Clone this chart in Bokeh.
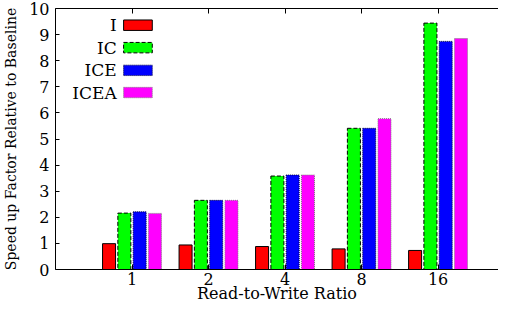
from bokeh.plotting import figure
from bokeh.models import FixedTicker, LinearAxis, Label, BoxAnnotation, ColumnDataSource, Range1d
from bokeh.transform import dodge
from bokeh.embed import file_html
from bokeh.resources import INLINE

# ---- data ----
ratios = ["1", "2", "4", "8", "16"]
series_names = ["I", "IC", "ICE", "ICEA"]
speedup_I = [0.99, 0.94, 0.88, 0.79, 0.73]
speedup_IC = [2.16, 2.65, 3.58, 5.41, 9.44]
speedup_ICE = [2.21, 2.65, 3.62, 5.41, 8.74]
speedup_ICEA = [2.15, 2.65, 3.62, 5.78, 8.85]
y_ticks = [0, 1, 2, 3, 4, 5, 6, 7, 8, 9, 10]

FONT = "DejaVu Serif"
FS = "16px"

pos = [i + 1 for i in range(len(ratios))]
src = ColumnDataSource(dict(x=pos, I=speedup_I, IC=speedup_IC, ICE=speedup_ICE, ICEA=speedup_ICEA))

p = figure(width=498, height=305, x_range=Range1d(0, 5.79), y_range=Range1d(0, 10),
           output_backend="svg", toolbar_location=None,
           min_border_left=51, min_border_right=0, min_border_top=8, min_border_bottom=0)
p.outline_line_color = None
p.xgrid.visible = False
p.ygrid.visible = False
p.background_fill_color = "white"

styles = [
    ("I", "#ff0000", "black", "solid", -0.3),
    ("IC", "#00ff00", "black", "4 2", -0.1),
    ("ICE", "#0000ff", "#000040", "1 1", 0.1),
    ("ICEA", "#ff00ff", "#808080", "1 1", 0.3),
]
W = 0.17
for name, fill, line, dash, off in styles:
    p.vbar(x=dodge("x", off, range=p.x_range), top=name, width=W, bottom=0, source=src,
           fill_color=fill, line_color=line, line_dash=dash, line_width=1)

# axes
xa = p.xaxis[0]
xa.ticker = FixedTicker(ticks=pos)
xa.major_label_overrides = {x: r for x, r in zip(pos, ratios)}
xa.axis_label = "Read-to-Write Ratio"
xa.major_tick_in = 5
xa.major_tick_out = 0
xa.minor_tick_line_color = None
xa.major_label_standoff = 3
xa.axis_label_standoff = -4
xa.axis_line_color = "black"

ya = p.yaxis[0]
ya.ticker = FixedTicker(ticks=y_ticks)
ya.axis_label = "Speed up Factor Relative to Baseline"
ya.major_tick_in = 4
ya.major_tick_out = 0
ya.minor_tick_line_color = None
ya.major_label_standoff = 6
ya.axis_label_standoff = 7
ya.axis_line_color = "black"

for ax in (xa, ya):
    ax.major_label_text_font = FONT
    ax.major_label_text_font_size = FS
    ax.major_label_text_color = "black"
    ax.axis_label_text_font = FONT
    ax.axis_label_text_font_size = FS
    ax.axis_label_text_font_style = "normal"
    ax.axis_label_text_color = "black"
    ax.major_tick_line_color = "black"
ya.axis_label_text_font_size = "14px"

top = LinearAxis(ticker=FixedTicker(ticks=pos), major_label_overrides={x: "" for x in pos},
                 major_tick_in=5, major_tick_out=0, major_label_standoff=0,
                 minor_tick_line_color=None, axis_line_color="black", major_tick_line_color="black")
p.add_layout(top, "above")

# custom gnuplot-style legend: label then swatch
leg_y = [9.36, 8.50, 7.63, 6.78]
for (name, fill, line, dash, off), yy in zip(styles, leg_y):
    p.add_layout(Label(x=0.80, y=yy, text=name, text_align="right", text_baseline="middle",
                       text_font=FONT, text_font_size="17px", text_color="black"))
    p.add_layout(BoxAnnotation(left=0.89, right=1.265, bottom=yy - 0.2, top=yy + 0.2,
                               fill_color=fill, fill_alpha=1.0, line_color=line,
                               line_dash=dash, line_width=1, line_alpha=1.0))

open("out.html", "w").write(file_html(p, INLINE))
